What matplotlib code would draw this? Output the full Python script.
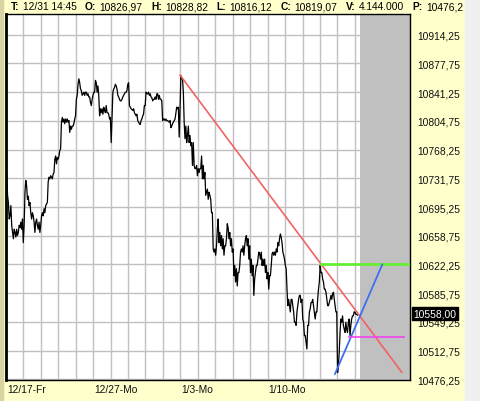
import matplotlib
matplotlib.use("Agg")
import matplotlib.pyplot as plt
import matplotlib.transforms as mtransforms
import numpy as np
from matplotlib.patches import Rectangle

W, H = 480, 402
BG = "#FFFFCC"
FONT = "Liberation Sans"

# 15-minute closes, left to right (two readings per sample)
PRICES = [
    10739, 10710, 10701, 10680, 10684, 10697, 10672, 10663, 10655, 10667,
    10663, 10657, 10667, 10659, 10663, 10672, 10669, 10676, 10667, 10680,
    10650, 10672, 10714, 10729, 10722, 10705, 10709, 10697, 10701, 10688,
    10680, 10688, 10684, 10676, 10663, 10676, 10680, 10672, 10667, 10676,
    10663, 10672, 10684, 10688, 10684, 10693, 10688, 10697, 10699, 10701,
    10727, 10733, 10731, 10735, 10733, 10731, 10737, 10739, 10756, 10760,
    10750, 10758, 10756, 10760, 10767, 10769, 10803, 10809, 10803, 10807,
    10801, 10807, 10803, 10807, 10803, 10805, 10790, 10798, 10794, 10798,
    10798, 10801, 10807, 10811, 10832, 10837, 10851, 10858, 10853, 10845,
    10843, 10837, 10839, 10841, 10837, 10841, 10841, 10837, 10839, 10835,
    10835, 10828, 10824, 10832, 10837, 10841, 10841, 10856, 10853, 10841,
    10849, 10837, 10811, 10820, 10815, 10820, 10813, 10822, 10818, 10815,
    10824, 10815, 10815, 10813, 10807, 10809, 10777, 10811, 10841, 10845,
    10847, 10851, 10849, 10845, 10837, 10835, 10832, 10830, 10830, 10832,
    10835, 10837, 10839, 10841, 10841, 10843, 10851, 10853, 10824, 10822,
    10820, 10819, 10818, 10820, 10815, 10813, 10811, 10813, 10805, 10803,
    10801, 10800, 10805, 10807, 10811, 10813, 10824, 10824, 10841, 10839,
    10839, 10841, 10837, 10839, 10835, 10834, 10830, 10832, 10832, 10835,
    10832, 10839, 10839, 10832, 10837, 10832, 10832, 10830, 10805, 10807,
    10807, 10805, 10807, 10805, 10805, 10804, 10803, 10805, 10796, 10798,
    10801, 10803, 10805, 10807, 10815, 10822, 10820, 10822, 10784, 10820,
    10862, 10858, 10858, 10841, 10803, 10782, 10798, 10777, 10786, 10798,
    10777, 10786, 10773, 10777, 10748, 10777, 10748, 10744, 10744, 10748,
    10735, 10744, 10739, 10744, 10744, 10760, 10731, 10748, 10731, 10739,
    10710, 10714, 10718, 10705, 10714, 10710, 10705, 10688, 10688, 10642,
    10638, 10642, 10634, 10646, 10667, 10680, 10650, 10663, 10646, 10659,
    10642, 10655, 10634, 10646, 10646, 10655, 10674, 10669, 10655, 10663,
    10646, 10655, 10638, 10642, 10608, 10621, 10600, 10617, 10595, 10612,
    10612, 10621, 10638, 10642, 10638, 10646, 10634, 10646, 10655, 10659,
    10646, 10655, 10629, 10646, 10612, 10629, 10608, 10621, 10583, 10604,
    10612, 10621, 10621, 10629, 10638, 10636, 10629, 10638, 10621, 10629,
    10621, 10629, 10612, 10621, 10604, 10612, 10591, 10608, 10608, 10621,
    10636, 10638, 10634, 10638, 10634, 10642, 10638, 10650, 10646, 10655,
    10661, 10657, 10650, 10638, 10634, 10629, 10621, 10617, 10591, 10570,
    10578, 10570, 10562, 10578, 10578, 10570, 10562, 10549, 10549, 10545,
    10562, 10570, 10578, 10583, 10583, 10574, 10578, 10553, 10549, 10532,
    10532, 10523, 10515, 10545, 10545, 10562, 10566, 10574, 10574, 10578,
    10570, 10562, 10553, 10562, 10562, 10578, 10591, 10600, 10621, 10612,
    10612, 10604, 10600, 10591, 10591, 10587, 10578, 10570, 10570, 10574,
    10578, 10583, 10578, 10585, 10587, 10578, 10570, 10562, 10562, 10485,
    10494, 10511, 10536, 10553, 10549, 10557, 10545, 10540, 10536, 10549,
    10540, 10536, 10549, 10553, 10532, 10545, 10553, 10557, 10557, 10562,
    10562, 10559, 10559, 10558,
]
FIRST_DAY, LAST_DAY = 0.05, 20.15   # trading-day axis, 12/17 = 0
X_MAX = 23.16
FORECAST_START = 20.29
LAST_PRICE = 10558.00

Y_TICKS = [10476.25, 10512.75, 10549.25, 10585.75, 10622.25, 10658.75, 10695.25,
           10731.75, 10768.25, 10804.75, 10841.25, 10877.75, 10914.25]
Y_MIN, Y_MAX = 10475.6, 10940.3
GRID_DAYS = list(range(1, 21))
X_LABELS = ["12/17-Fr", "12/27-Mo", "1/3-Mo", "1/10-Mo"]
X_LABEL_DAYS = [0, 5, 10, 15]

RED_LINE = ([9.98, 22.69], [10862.8, 10485.4])
GREEN_LINE = ([18.04, 23.16], [10622.25, 10622.25])
BLUE_LINE = ([18.86, 21.57], [10483.2, 10622.25])
MAGENTA_LINE = ([19.68, 22.82], [10529.8, 10529.8])

HEADER = [("T:", "12/31 14:45"), ("O:", "10826,97"), ("H:", "10828,82"), ("L:", "10816,12"),
          ("C:", "10819,07"), ("V:", "4.144.000"), ("P:", "10476,2")]


def fmt(v: float) -> str:
    return f"{v:.2f}".replace(".", ",")


def _header(fig: plt.Figure, x0: float, x1: float, y: float, size: float) -> None:
    renderer = fig.canvas.get_renderer()
    texts = []
    for key, value in HEADER:
        k = fig.text(0, 1 - y / H, key, fontsize=size, fontweight="bold", va="center", ha="left")
        v = fig.text(0, 1 - y / H, value, fontsize=size, va="center", ha="left")
        texts.append((k, v))
    widths = [(k.get_window_extent(renderer).width, v.get_window_extent(renderer).width) for k, v in texts]
    key_gap = 3.0
    used = sum(kw + key_gap + vw for kw, vw in widths)
    gap = max((x1 - x0 - used) / (len(texts) - 1), 4.0)
    x = x0
    for (k, v), (kw, vw) in zip(texts, widths):
        k.set_x(x / W)
        v.set_x((x + kw + key_gap) / W)
        x += kw + key_gap + vw + gap


def main() -> None:
    plt.rcParams["font.family"] = [FONT, "DejaVu Sans"]
    fig = plt.figure(figsize=(W / 100, H / 100), dpi=100, facecolor=BG)

    # side strips (the right one hides any header overflow)
    fig.patches.append(Rectangle((0, 0), 3 / W, 1, transform=fig.transFigure, color="#D8D4A4", zorder=0))
    fig.patches.append(Rectangle((465 / W, 0), 15 / W, 1, transform=fig.transFigure, color="#F0F0F0", zorder=10))

    left, right, top, bottom = 5.85, 410, 15, 381
    ax = fig.add_axes([left / W, 1 - bottom / H, (right - left) / W, (bottom - top) / H])
    ax.set_facecolor("white")
    ax.set_xlim(0, X_MAX)
    ax.set_ylim(Y_MIN, Y_MAX)

    ax.set_axisbelow(True)
    ax.set_xticks(GRID_DAYS)
    ax.set_xticklabels([])
    ax.set_yticks(Y_TICKS)
    ax.yaxis.tick_right()
    ax.set_yticklabels([fmt(v) for v in Y_TICKS])
    ax.tick_params(axis="x", length=0)
    ax.tick_params(axis="y", length=0, pad=5, labelsize=7.4, labelcolor="#111111")
    ax.grid(True, color="#C0C0C0", linewidth=1.0)

    ax.axvspan(FORECAST_START, X_MAX, color="#C0C0C0", linewidth=0, zorder=1)

    x = np.linspace(FIRST_DAY, LAST_DAY, len(PRICES))
    ax.plot(x, PRICES, color="black", linewidth=0.9, zorder=3)

    ax.plot(*RED_LINE, color="#F06464", linewidth=1.2, zorder=4)
    ax.plot(*GREEN_LINE, color="#66EE33", linewidth=2.0, zorder=4)
    ax.plot(*BLUE_LINE, color="#3F6FF0", linewidth=1.3, zorder=4)
    ax.plot(*MAGENTA_LINE, color="#EE44EE", linewidth=1.2, zorder=4)

    for side in ax.spines.values():
        side.set_color("black")
        side.set_linewidth(1.0)
    ax.spines["left"].set_linewidth(2.0)

    # last price marker on the right scale
    ax.text(1.0 + 3.5 / (right - left), LAST_PRICE + 2.5, fmt(LAST_PRICE), transform=ax.get_yaxis_transform(),
            ha="left", va="center", color="white", fontsize=7.4,
            bbox={"boxstyle": "square,pad=0.15", "facecolor": "black", "edgecolor": "black"}, zorder=5)

    # date labels under the axis
    trans = mtransforms.blended_transform_factory(ax.transData, ax.transAxes)
    for day, label in zip(X_LABEL_DAYS, X_LABELS):
        ax.text(day + 0.06, -9 / (bottom - top), label, transform=trans, ha="left", va="center",
                fontsize=7.4, color="#111111")

    # readout header
    _header(fig, 11, 463, 7, 7.4)

    fig.savefig("out.png", dpi=100, facecolor=BG)


if __name__ == "__main__":
    main()
